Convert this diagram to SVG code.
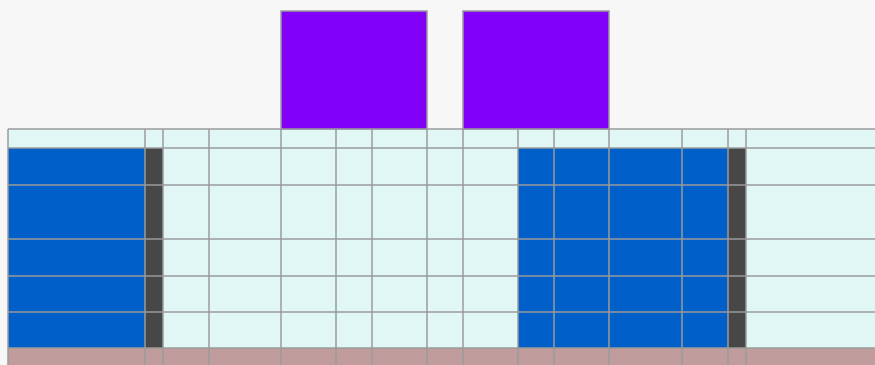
<svg xmlns="http://www.w3.org/2000/svg" width="875" height="365" viewBox="0 0 875 365">
<style>
.g{stroke:#9a9a9a;stroke-width:1.5;fill:none}
.p{fill:#8000f8;stroke:#9a9a9a;stroke-width:1.5}
</style>
<rect x="0" y="0" width="875" height="365" fill="#f7f7f7"/>
<g id="grid">
<rect x="8" y="129" width="870" height="240" fill="#e0f7f5"/>
<rect x="8" y="148" width="137" height="200" fill="#005fc8"/>
<rect x="145" y="148" width="18" height="200" fill="#474747"/>
<rect x="518" y="148" width="210" height="200" fill="#005fc8"/>
<rect x="728" y="148" width="18" height="200" fill="#474747"/>
<rect x="8" y="348" width="870" height="20" fill="#c09c9c"/>
<path class="g" d="M8 129H880M8 148H880M8 185H880M8 239H880M8 276H880M8 312H880M8 348H880M8 129V370M145 129V370M163 129V370M209 129V370M281 129V370M336 129V370M372 129V370M427 129V370M463 129V370M518 129V370M554 129V370M609 129V370M682 129V370M728 129V370M746 129V370"/>
</g>
<g id="box1"><rect class="p" x="281" y="11" width="146" height="118"/></g>
<g id="box2"><rect class="p" x="463" y="11" width="146" height="118"/></g>
</svg>
